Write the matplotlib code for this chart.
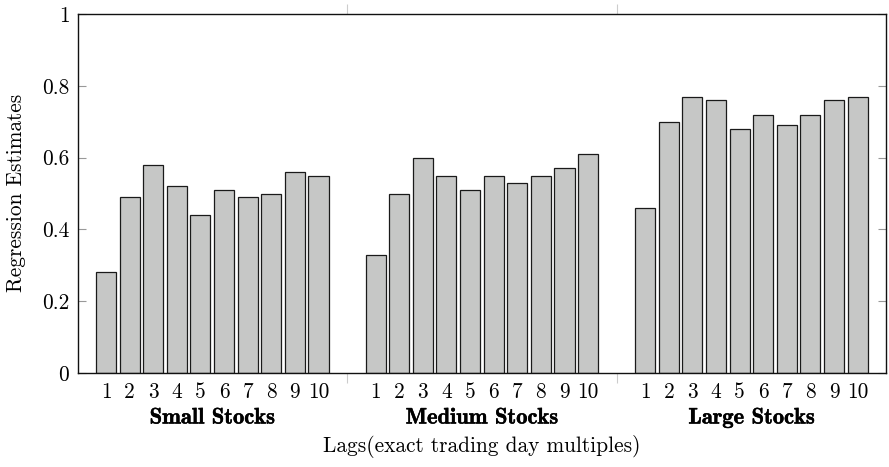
import matplotlib
matplotlib.use("Agg")
import matplotlib.pyplot as plt
import matplotlib.transforms as mtransforms
import matplotlib.patheffects as pe
import numpy as np

groups = ["Small Stocks", "Medium Stocks", "Large Stocks"]
lag_labels = ["1", "2", "3", "4", "5", "6", "7", "8", "9", "10"]
small = [0.28, 0.49, 0.58, 0.52, 0.44, 0.51, 0.49, 0.50, 0.56, 0.55]
medium = [0.33, 0.50, 0.60, 0.55, 0.51, 0.55, 0.53, 0.55, 0.57, 0.61]
large = [0.46, 0.70, 0.77, 0.76, 0.68, 0.72, 0.69, 0.72, 0.76, 0.77]
series = [small, medium, large]
yticks = [0, 0.2, 0.4, 0.6, 0.8, 1]
ytick_labels = ["0", "0.2", "0.4", "0.6", "0.8", "1"]

FS = 15.4
RM = "cmr10"
BF = "cmb10"

fig = plt.figure(figsize=(8.89, 4.67), dpi=100)
ax = fig.add_axes([77.7 / 889, 1 - 373 / 467, (886 - 77.7) / 889, (373 - 14) / 467])

group_step = 11.42
xs_all, labels_all, centers = [], [], []
for g, vals in enumerate(series):
    xs = np.arange(len(vals)) + g * group_step
    ax.bar(xs, vals, width=0.85, color="#c6c7c6", edgecolor="#1a1a1a", linewidth=0.9, zorder=2)
    xs_all.extend(xs)
    labels_all.extend(lag_labels)
    centers.append(xs.mean())

ax.set_xlim(-1.2, 2 * group_step + 9 + 1.2)
ax.set_ylim(0, 1)

ax.set_xticks(xs_all)
ax.set_xticklabels(labels_all, fontfamily=RM, fontsize=FS)
ax.tick_params(axis="x", which="major", length=0, pad=7)
seps = [9 + (group_step - 9) / 2, group_step + 9 + (group_step - 9) / 2]
ax.set_xticks(seps, minor=True)
ax.tick_params(axis="x", which="minor", direction="out", length=7, width=0.8,
               color="#cccccc", top=True, bottom=True)

ax.set_yticks(yticks)
ax.set_yticklabels(ytick_labels, fontfamily=RM, fontsize=FS)
ax.tick_params(axis="y", direction="in", length=6, width=0.8, color="#999999",
               left=True, right=True, pad=6)

for s in ax.spines.values():
    s.set_linewidth(1.0)
    s.set_color("#111111")

trans = mtransforms.blended_transform_factory(ax.transData, ax.transAxes)
for c, name in zip(centers, groups):
    ax.text(c, (373 - 423.5) / 359, name, transform=trans, ha="center", va="baseline",
            fontfamily=BF, fontsize=16.2,
            path_effects=[pe.withStroke(linewidth=0.35, foreground="black")])

ax.set_xlabel("Lags(exact trading day multiples)", fontfamily=RM, fontsize=FS)
ax.xaxis.label.set_va("baseline")
ax.xaxis.set_label_coords(0.5, (373 - 452) / 359)

fig.text(16 / 889, 1 - 193 / 467, "Regression Estimates", rotation=90, ha="center",
         va="center", fontfamily=RM, fontsize=FS)

fig.savefig("out.png", dpi=100)
